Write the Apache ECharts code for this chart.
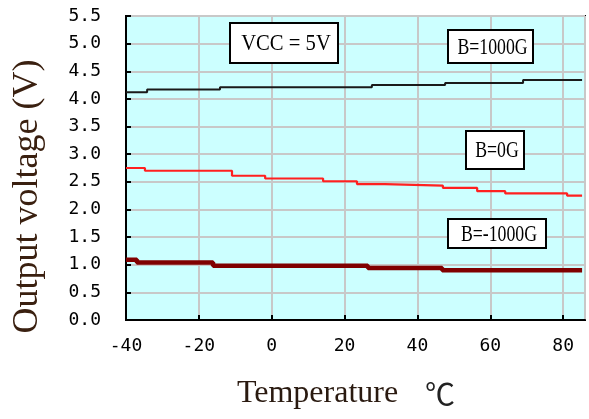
<!DOCTYPE html>
<html><head><meta charset="utf-8">
<script src="https://cdn.jsdelivr.net/npm/echarts@6/dist/echarts.min.js"></script>
<style>html,body{margin:0;padding:0;background:#fff}#c{width:589px;height:419px}</style>
</head><body><div id="c"></div>
<script>
// Temperature (°C) vs output voltage (V), step-wise traces
const b1000 = [[-40,4.12],[-34.2,4.17],[-14.2,4.21],[27.5,4.25],[47.6,4.29],[69,4.34],[85.2,4.34]];
const b0 = [[-40,2.75],[-34.8,2.70],[-10.9,2.61],[-1.8,2.56],[14.1,2.51],[23.4,2.46],[31.1,2.43],[47,2.39],[56.4,2.33],[64.1,2.29],[81.1,2.25],[85.2,2.25]];
const bm1000 = [[-40,1.09],[-37,1.04],[-16.1,0.98],[26.4,0.94],[46.8,0.90],[85.2,0.90]];
const yTicks = [0,0.5,1,1.5,2,2.5,3,3.5,4,4.5,5,5.5];
const xTicks = [-40,-20,0,20,40,60,80];
const notes = [
  {text:'VCC = 5V', box:[230,23,108,40], sx:0.86},
  {text:'B=1000G', box:[448,30,85,33], sx:0.74},
  {text:'B=0G', box:[466,131,58,38], sx:0.74},
  {text:'B=-1000G', box:[448,219,98,29], sx:0.74}
];
const chart = echarts.init(document.getElementById('c'));
const noteFont = "'Liberation Serif',serif";
const graphics = [];
notes.forEach(n => {
  const [x,y,w,h] = n.box;
  graphics.push({type:'rect', shape:{x:x,y:y,width:w,height:h}, style:{fill:'#fff',stroke:'#000',lineWidth:2}, z:100});
  graphics.push({type:'text', x:x+w/2+2, y:y+h/2+1, scaleX:n.sx, style:{text:n.text, fill:'#000', font:"24px "+noteFont, textAlign:'center', textVerticalAlign:'middle'}, z:101});
});
chart.setOption({
  animation:false,
  backgroundColor:'#fff',
  grid:{left:126,right:4,top:16,bottom:99,show:true,backgroundColor:'#ccffff',borderColor:'#000',borderWidth:2},
  xAxis:{type:'value',min:-40,max:86,interval:20,
    name:'{a|Temperature}{b|    ℃}',nameLocation:'middle',nameGap:58,
    nameTextStyle:{padding:[0,19,0,0],rich:{a:{fontFamily:'Liberation Serif',fontSize:32,color:'#2a1a10'},b:{fontFamily:"'Noto Sans CJK SC'",fontSize:30,color:'#222'}}},
    axisLine:{show:true,onZero:false,lineStyle:{color:'#000',width:2}},
    axisTick:{show:true,inside:true,length:5,lineStyle:{color:'#000',width:2}},
    axisLabel:{color:'#000',fontFamily:'DejaVu Sans Mono',fontSize:18,margin:17,showMaxLabel:false},
    splitLine:{show:true,lineStyle:{color:'#c8c8c8',width:2}}
  },
  yAxis:{type:'value',min:0,max:5.5,interval:0.5,
    name:'Output voltage (V)',nameLocation:'middle',nameGap:80,
    nameTextStyle:{fontFamily:'Liberation Serif',fontSize:36,color:'#3a2010',padding:[0,57,0,0]},
    axisLine:{show:true,onZero:false,lineStyle:{color:'#000',width:2}},
    axisTick:{show:true,inside:true,length:5,lineStyle:{color:'#000',width:2}},
    axisLabel:{color:'#000',fontFamily:'DejaVu Sans Mono',fontSize:18,margin:25,formatter:v=>v.toFixed(1)},
    splitLine:{show:true,lineStyle:{color:'#c8c8c8',width:2}}
  },
  series:[
    {type:'line',data:b1000,step:'end',symbol:'none',lineStyle:{color:'#1a1a1a',width:2}},
    {type:'line',data:b0,step:'end',symbol:'none',lineStyle:{color:'#ff2020',width:2.2}},
    {type:'line',data:bm1000,step:'end',symbol:'none',lineStyle:{color:'#800000',width:4.5}}
  ],
  graphic:graphics
});
</script></body></html>
